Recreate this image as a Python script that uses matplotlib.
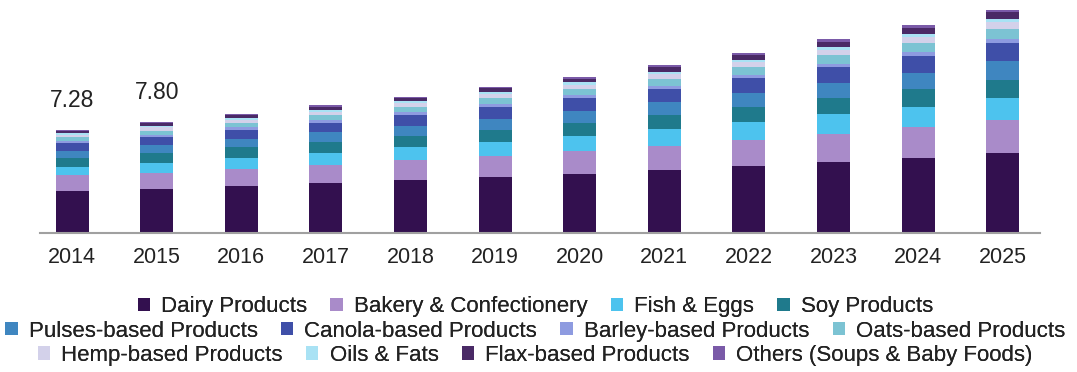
import matplotlib.pyplot as plt
import numpy as np

plt.rcParams['font.family'] = ['Liberation Sans', 'DejaVu Sans']

years = ["2014", "2015", "2016", "2017", "2018", "2019",
         "2020", "2021", "2022", "2023", "2024", "2025"]

dairy = [2.97, 3.11, 3.32, 3.53, 3.75, 3.96, 4.17, 4.45, 4.73, 5.02, 5.30, 5.65]
bakery = [1.10, 1.16, 1.23, 1.30, 1.38, 1.47, 1.60, 1.72, 1.85, 2.00, 2.17, 2.35]
fish = [0.59, 0.70, 0.78, 0.84, 0.92, 1.00, 1.10, 1.20, 1.30, 1.40, 1.47, 1.53]
soy = [0.65, 0.69, 0.73, 0.78, 0.82, 0.88, 0.93, 0.98, 1.05, 1.12, 1.21, 1.30]
pulses = [0.50, 0.55, 0.60, 0.66, 0.71, 0.78, 0.84, 0.91, 0.99, 1.08, 1.19, 1.30]
canola = [0.55, 0.59, 0.64, 0.70, 0.75, 0.82, 0.87, 0.93, 1.01, 1.09, 1.19, 1.30]
barley = [0.15, 0.16, 0.17, 0.18, 0.19, 0.20, 0.21, 0.23, 0.24, 0.26, 0.28, 0.30]
oats = [0.25, 0.28, 0.31, 0.34, 0.37, 0.41, 0.44, 0.48, 0.53, 0.58, 0.64, 0.70]
hemp = [0.20, 0.22, 0.23, 0.25, 0.27, 0.30, 0.32, 0.34, 0.37, 0.40, 0.43, 0.47]
oils = [0.10, 0.11, 0.12, 0.13, 0.14, 0.15, 0.16, 0.17, 0.19, 0.20, 0.22, 0.24]
flax = [0.15, 0.17, 0.19, 0.21, 0.23, 0.26, 0.28, 0.30, 0.33, 0.37, 0.41, 0.45]
others = [0.07, 0.08, 0.09, 0.10, 0.10, 0.12, 0.13, 0.14, 0.15, 0.16, 0.18, 0.20]

segment_names = ["Dairy Products", "Bakery & Confectionery", "Fish & Eggs",
                 "Soy Products", "Pulses-based Products", "Canola-based Products",
                 "Barley-based Products", "Oats-based Products", "Hemp-based Products",
                 "Oils & Fats", "Flax-based Products", "Others (Soups & Baby Foods)"]
segment_values = [dairy, bakery, fish, soy, pulses, canola,
                  barley, oats, hemp, oils, flax, others]
segment_colors = ["#33104f", "#a98bc9", "#4dc3ee", "#1f7a8c",
                  "#3f86c0", "#3f4fa8", "#8e9be0", "#7cc3d3",
                  "#d3d1ea", "#a9e2f4", "#4a2a66", "#7a5aa8"]

labelled = {"2014": "7.28", "2015": "7.80"}

fig = plt.figure(figsize=(10.77, 3.72), dpi=100)
ax = fig.add_axes([0.0371, 0.3737, 0.9285, 0.6263])

x = np.arange(len(years))
bottom = np.zeros(len(years))
handles = []
for name, vals, col in zip(segment_names, segment_values, segment_colors):
    vals = np.array(vals)
    h = ax.bar(x, vals, 0.39, bottom=bottom, color=col, label=name)
    handles.append(h)
    bottom += vals

for i, yr in enumerate(years):
    if yr in labelled:
        ax.text(x[i], bottom[i] + 2.1, labelled[yr], ha="center", va="center",
                fontsize=16.5, color="#222222")

ax.set_xlim(-0.38, 11.44)
ax.set_ylim(0, 16.47)
ax.set_xticks(x)
ax.set_xticklabels(years, fontsize=15.5, color="#222222")
ax.tick_params(axis="x", length=0, pad=10)
ax.set_yticks([])
for s in ["top", "left", "right"]:
    ax.spines[s].set_visible(False)
ax.spines["bottom"].set_color("#a0a0a0")
ax.spines["bottom"].set_linewidth(1.5)

# legend: three independently centred rows
row_y = [0.175, 0.11, 0.045]
for r in range(3):
    leg = fig.legend(handles[4 * r:4 * r + 4], segment_names[4 * r:4 * r + 4],
                     loc="center", bbox_to_anchor=(0.497, row_y[r]), ncol=4,
                     frameon=False, fontsize=16, handlelength=0.55,
                     handleheight=0.55, handletextpad=0.5, columnspacing=1.05,
                     borderpad=0, labelcolor="#222222")
    fig.add_artist(leg)

fig.savefig("out.png", dpi=100)
